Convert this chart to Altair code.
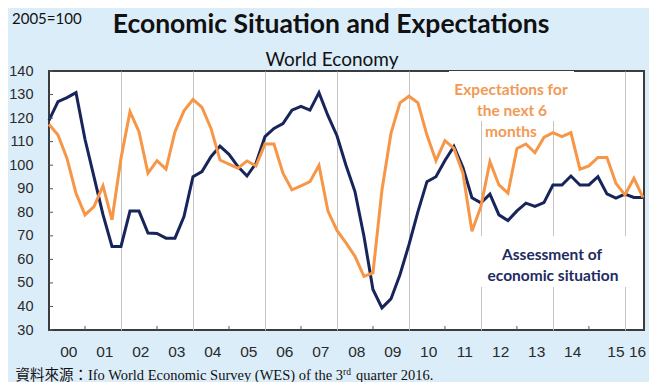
import altair as alt
import pandas as pd

# Quarterly indices, 2000 Q1 .. 2016 Q3 (2005 = 100)
assessment = [119, 127, 128.7, 130.8, 111, 95, 79, 65.5, 65.5, 80.5, 80.5, 71.2,
              71, 69, 69, 78.2, 95.1, 97.3, 103.6, 108.1, 104.6, 99.4, 95.4, 100.8,
              112.1, 115.6, 117.7, 123.4, 125, 123.4, 130.8, 121, 112.5, 100, 88.8, 69.8,
              47.2, 39.4, 43.2, 53.5, 66.2, 80.3, 93, 95.1, 102, 108, 99, 86.2,
              84, 87.7, 78.9, 76.5, 80.6, 83.9, 82.5, 84.1, 91.6, 91.6, 95.4, 91.6,
              91.6, 95.1, 87.8, 86, 87.7, 86.3, 86.3]
expectations = [117.4, 112.8, 102.9, 88.1, 78.9, 82.4, 91.2, 76.8, 102.9, 122.7, 114.2, 96.6,
                101.9, 98.3, 114.2, 123.1, 127.9, 124.5, 115.6, 102.2, 100.5, 98.7, 101.8, 99.7,
                109, 109, 96.6, 89.5, 91.2, 93, 99.9, 80.5, 72.3, 67, 61.3, 52.8,
                54.2, 89.5, 113.5, 126.5, 129.3, 126.5, 112.8, 101.9, 110.4, 107.1, 96.6, 71.9,
                82.5, 101.5, 91.6, 88.1, 107.1, 109, 105.3, 111.8, 113.8, 112.1, 113.8, 98.3,
                99.7, 103.3, 103.3, 92.3, 87.4, 94.4, 86.3]
start_year = 2000
year_labels = ["00", "01", "02", "03", "04", "05", "06", "07", "08", "09",
               "10", "11", "12", "13", "14", "15", "16"]
label_pos = [2000.55, 2001.55, 2002.55, 2003.55, 2004.55, 2005.55, 2006.55, 2007.55,
             2008.55, 2009.55, 2010.55, 2011.55, 2012.55, 2013.55, 2014.55, 2015.75, 2016.35]
y_ticks = [30, 40, 50, 60, 70, 80, 90, 100, 110, 120, 130, 140]
grid_years = [2002, 2004, 2006, 2008, 2010, 2012, 2014, 2016]
odd_years = [2001, 2003, 2005, 2007, 2009, 2011, 2013, 2015]

series_names = ["Assessment of economic situation", "Expectations for the next 6 months"]
rows = []
for name, vals in zip(series_names, [assessment, expectations]):
    for i, v in enumerate(vals):
        rows.append({"t": start_year + i / 4, "value": v, "series": name})
df = pd.DataFrame(rows)

W, H = 595, 259
NAVY = "#17255A"
ORANGE = "#F79646"
xscale = alt.Scale(domain=[2000, 2016.53], nice=False, zero=False)
yscale = alt.Scale(domain=[30, 140], nice=False, zero=False)
xaxis = alt.Axis(values=grid_years, grid=True, gridColor="#c4c4c4", gridWidth=1,
                 labels=False, ticks=False, domain=False, title=None)
yaxis = alt.Axis(values=y_ticks, grid=False, ticks=False, domain=False, title=None,
                 labelFont="Liberation Sans", labelFontSize=14.5, labelColor="#2a2a2a",
                 labelPadding=16, labelOverlap=False, labelFlush=False, labelBound=False)
one = pd.DataFrame({"a": [0]})

lines = alt.Chart(df).mark_line(strokeWidth=3).encode(
    x=alt.X("t:Q", scale=xscale, axis=xaxis),
    y=alt.Y("value:Q", scale=yscale, axis=yaxis),
    color=alt.Color("series:N", scale=alt.Scale(domain=series_names, range=[NAVY, ORANGE]),
                    legend=None),
)

boxes = alt.Chart(pd.DataFrame({"x": [400, 429], "x2": [525, 580], "y": [0, 165], "y2": [50, 216]})).mark_rect(
    color="white").encode(
    x=alt.X("x:Q", scale=None), x2="x2:Q",
    y=alt.Y("y:Q", scale=None), y2="y2:Q")

odd_ticks = alt.Chart(pd.DataFrame({"yr": odd_years})).mark_rule(color="#555", strokeWidth=1).encode(
    x=alt.X("yr:Q", scale=xscale, axis=xaxis), y=alt.value(H), y2=alt.value(H - 4))

ytick_marks = alt.Chart(pd.DataFrame({"v": y_ticks})).mark_rule(color="#555", strokeWidth=1).encode(
    y=alt.Y("v:Q", scale=yscale, axis=yaxis), x=alt.value(0), x2=alt.value(4))

xlabels = alt.Chart(pd.DataFrame({"p": label_pos, "lab": year_labels})).mark_text(
    font="Liberation Sans", fontSize=15.5, color="#2a2a2a", baseline="middle").encode(
    x=alt.X("p:Q", scale=xscale, axis=xaxis), y=alt.value(H + 22), text="lab:N")


def txt(text, x, y, **kw):
    return alt.Chart(one).mark_text(text=text, **kw).encode(x=alt.value(x), y=alt.value(y))


ann_font = dict(font="Lato", fontWeight="bold", fontSize=15.5, baseline="middle", align="center")
annotations = [
    txt("Expectations for", 462, 19, color="#F29A55", **ann_font),
    txt("the next 6", 463, 40, color="#F29A55", **ann_font),
    txt("months", 462, 61, color="#F29A55", **ann_font),
    txt("Assessment of", 503, 184, color="#1E2C60", **ann_font),
    txt("economic situation", 504, 205, color="#1E2C60", **ann_font),
    txt("Economic Situation and Expectations", 282, -38, font="Lato", fontWeight="bold",
        fontSize=26.5, color="#111111", align="center", baseline="alphabetic"),
    txt("World Economy", 283, -5, font="Lato", fontSize=19, color="#111111",
        align="center", baseline="alphabetic"),
    txt("2005=100", -37, -47, font="Lato", fontSize=15, color="#111111",
        align="left", baseline="alphabetic"),
    txt("資料來源：Ifo World Economic Survey (WES) of the 3", 294, 309,
        font="Liberation Serif, Noto Sans CJK TC", fontSize=14.5, color="#111111",
        align="right", baseline="alphabetic"),
    txt("rd", 294, 304, font="Liberation Serif", fontSize=9.5, color="#111111",
        align="left", baseline="alphabetic"),
    txt("quarter 2016.", 307, 309, font="Liberation Serif", fontSize=14.5, color="#111111",
        align="left", baseline="alphabetic"),
]

chart = alt.layer(boxes, lines, odd_ticks, ytick_marks, xlabels, *annotations).properties(
    width=W, height=H,
    padding={"left": 41, "top": 63, "right": 5, "bottom": 52},
    autosize=alt.AutoSizeParams(type="none"),
    background="#DCEDFA",
).configure_view(fill="white", stroke="#3c3c3c", strokeWidth=2)

chart.save("out.html", embed_options={"renderer": "svg", "actions": False})
